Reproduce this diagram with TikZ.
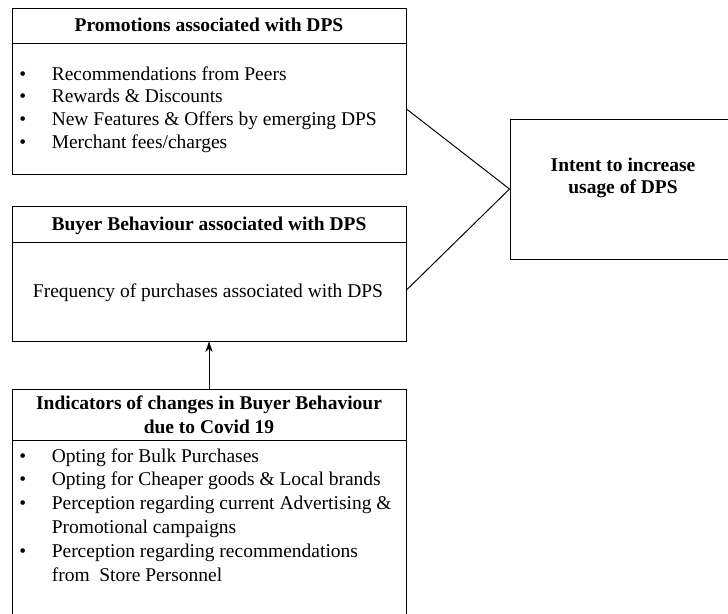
\documentclass[tikz,border=0pt]{standalone}
\usepackage{fontspec}
\setmainfont{Liberation Serif}
\usetikzlibrary{arrows.meta,positioning,fit}

\tikzset{
    box/.style={draw, line width=0.6pt, inner sep=0pt},
    head/.style={font=\fontsize{12}{14}\selectfont\bfseries, inner sep=0pt},
    body/.style={inner sep=0pt, anchor=base west},
    link/.style={line width=0.6pt}
}
% bullet list as a top-aligned table
\newcommand{\dpslist}[1]{\begin{tabular}[t]{@{}p{20pt}@{}l@{}}#1\end{tabular}}

\begin{document}
\begin{tikzpicture}[
    x=0.616pt,
    y=-0.616pt,
    >={Stealth[length=6.5pt,width=4.5pt]},
    font=\fontsize{12}{14}\selectfont
]
    \clip (0,0) rectangle (728,613);

    % Boxes - three on the left, target on the right
    \node[box, fit={(12,8)(406,174)}] (promo) {};
    \node[box, fit={(12,206)(406,341)}] (buyer) {};
    \node[box, fit={(12,389)(406,640)}] (covid) {};
    \node[box, fit={(510,119)(738,259)}] (intent) {};

    % Header rules
    \draw[link] (12,43) -- (406,43);
    \draw[link] (12,242) -- (406,242);
    \draw[link] (12,440) -- (406,440);

    % Texts
    \node[head, anchor=base] (promohead) at (209,31) {Promotions associated with DPS};
    \node[body] (promolist) at (19,80) {\dpslist{
        \textbullet & Recommendations from Peers\\
        \textbullet & Rewards \& Discounts\\
        \textbullet & New Features \& Offers by emerging DPS\\
        \textbullet & Merchant fees/charges}};

    \node[head, anchor=base] (buyerhead) at (209,230) {Buyer Behaviour associated with DPS};
    \node[inner sep=0pt, anchor=base] (buyertext) at (208,297) {Frequency of purchases associated with DPS};

    \node[head, align=center, font=\fontsize{12}{14.7}\selectfont\bfseries] (covidhead) at (209,415)
        {Indicators of changes in Buyer Behaviour\\due to Covid 19};
    \node[body, font=\fontsize{12}{14.7}\selectfont] (covidlist) at (19,462) {\dpslist{
        \textbullet & Opting for Bulk Purchases\\
        \textbullet & Opting for Cheaper goods \& Local brands\\
        \textbullet & Perception regarding current Advertising \&\\
                    & Promotional campaigns\\
        \textbullet & Perception regarding recommendations\\
                    & from\ \ Store Personnel}};

    \node[head, align=center] (intenttext) at (623,178) {Intent to increase\\usage of DPS};

    % Connectors
    \draw[link] (promo.east |- 0,109) -- (intent.west);
    \draw[link] (buyer.east |- 0,290) -- (intent.west);
    \draw[link, ->] (covid) -- (buyer);

\end{tikzpicture}
\end{document}
